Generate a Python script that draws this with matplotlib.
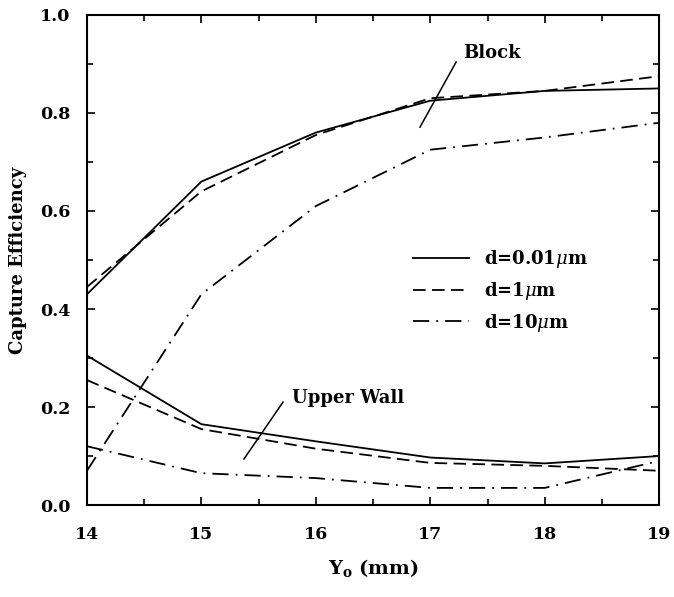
import matplotlib
matplotlib.use("Agg")
import matplotlib.pyplot as plt
from matplotlib.ticker import MultipleLocator

plt.rcParams['font.family'] = ['DejaVu Serif']
plt.rcParams['mathtext.fontset'] = 'dejavuserif'

y0 = [14, 15, 16, 17, 18, 19]

# Block
block_small = [0.43, 0.66, 0.76, 0.825, 0.845, 0.85]
block_mid = [0.445, 0.64, 0.755, 0.83, 0.845, 0.875]
block_large = [0.07, 0.43, 0.61, 0.725, 0.75, 0.78]

# Upper wall
wall_small = [0.305, 0.165, 0.13, 0.097, 0.085, 0.10]
wall_mid = [0.255, 0.155, 0.115, 0.086, 0.08, 0.07]
wall_large = [0.12, 0.065, 0.055, 0.035, 0.035, 0.09]

labels = ['d=0.01$\\mu$m', 'd=1$\\mu$m', 'd=10$\\mu$m']

fig = plt.figure(figsize=(6.74, 5.97), dpi=100)
ax = fig.add_axes([0.129, 0.154, 0.849, 0.821])

solid = dict(color='black', linewidth=1.3, linestyle='-')
dashed = dict(color='black', linewidth=1.3, linestyle=(0, (7, 3.5)))
dashdot = dict(color='black', linewidth=1.3, linestyle=(0, (9, 3.9, 1, 3.9)))

ax.plot(y0, block_small, label=labels[0], **solid)
ax.plot(y0, block_mid, label=labels[1], **dashed)
ax.plot(y0, block_large, label=labels[2], **dashdot)
ax.plot(y0, wall_small, **solid)
ax.plot(y0, wall_mid, **dashed)
ax.plot(y0, wall_large, **dashdot)

ax.set_xlim(14, 19)
ax.set_ylim(0, 1.0)
ax.xaxis.set_major_locator(MultipleLocator(1))
ax.xaxis.set_minor_locator(MultipleLocator(0.5))
ax.yaxis.set_major_locator(MultipleLocator(0.2))
ax.yaxis.set_minor_locator(MultipleLocator(0.1))
ax.yaxis.set_major_formatter(plt.FormatStrFormatter('%.1f'))
ax.tick_params(which='both', direction='in', top=True, right=True, width=1.2)
ax.tick_params(which='major', length=5.5, labelsize=12.5)
ax.tick_params(axis='x', which='major', pad=15)
ax.tick_params(axis='y', which='major', pad=12)
ax.tick_params(which='minor', length=4.5)
for lab in ax.get_xticklabels() + ax.get_yticklabels():
    lab.set_fontweight('bold')
for s in ax.spines.values():
    s.set_linewidth(1.5)

ax.set_xlabel('Y$_\\mathregular{o}$ (mm)', fontsize=14, fontweight='bold', labelpad=10)
ax.set_ylabel('Capture Efficiency', fontsize=13, fontweight='bold', labelpad=9)

# annotations
ax.text(17.29, 0.922, 'Block', fontsize=13, fontweight='bold', va='center')
ax.plot([16.91, 17.226], [0.771, 0.904], color='black', linewidth=1.1)
ax.text(15.79, 0.218, 'Upper Wall', fontsize=13, fontweight='bold', va='center')
ax.plot([15.372, 15.713], [0.094, 0.21], color='black', linewidth=1.1)

ax.legend(loc='center left', bbox_to_anchor=(0.57, 0.437), frameon=False,
          handlelength=3.1, handletextpad=0.8, labelspacing=0.55,
          borderpad=0, borderaxespad=0,
          prop={'weight': 'bold', 'size': 13})

fig.savefig('out.png', dpi=100)
